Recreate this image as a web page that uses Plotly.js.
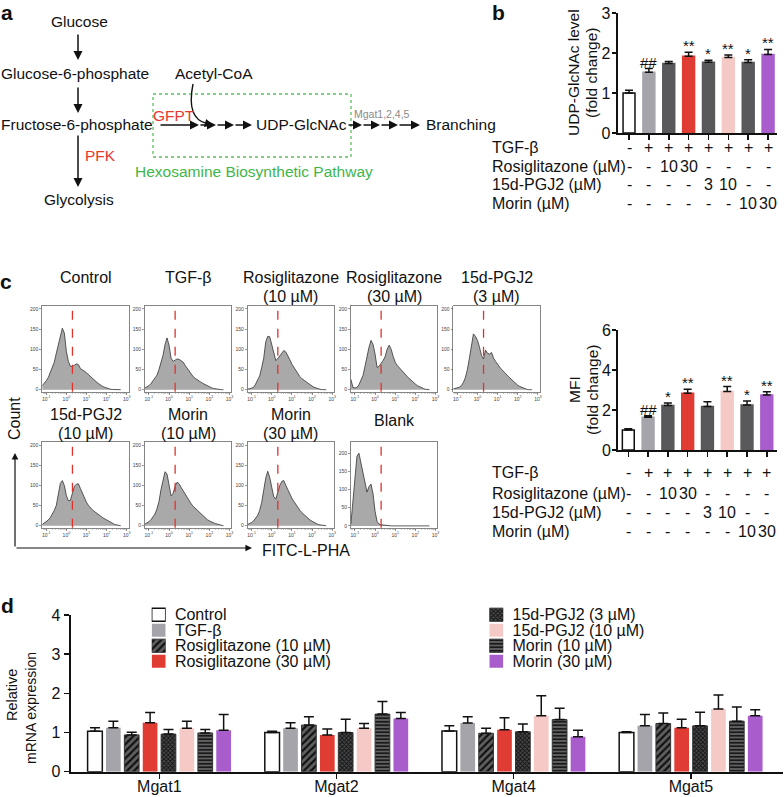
<!DOCTYPE html>
<html><head><meta charset="utf-8">
<script src="https://cdn.plot.ly/plotly-3.0.1.min.js"></script>
<style>body{margin:0;background:#fff}#chart{width:784px;height:797px}</style>
</head><body><div id="chart"></div>
<script>
// ---------------- data ----------------
const groups = ['Control','TGF-β','Rosiglitazone (10 µM)','Rosiglitazone (30 µM)','15d-PGJ2 (3 µM)','15d-PGJ2 (10 µM)','Morin (10 µM)','Morin (30 µM)'];

// panel b : UDP-GlcNAc level (fold change)
const udpMean = [1.00,1.52,1.74,1.92,1.77,1.89,1.76,1.96];
const udpErr  = [0.07,0.09,0.05,0.10,0.05,0.06,0.07,0.13];
const udpSig  = ['','##','','**','*','**','*','**'];

// panel c : MFI (fold change)
const mfiMean = [1.00,1.64,2.22,2.84,2.18,2.93,2.25,2.75];
const mfiErr  = [0.06,0.07,0.13,0.20,0.23,0.24,0.20,0.16];
const mfiSig  = ['','##','*','**','','**','*','**'];

// treatment table
const tableRows = ['TGF-β','Rosiglitazone (µM)','15d-PGJ2 (µM)','Morin (µM)'];
const tgfRow   = ['-','+','+','+','+','+','+','+'];
const rosiRow  = ['-','-','10','30','-','-','-','-'];
const pgjRow   = ['-','-','-','-','3','10','-','-'];
const morinRow = ['-','-','-','-','-','-','10','30'];

// panel c : flow cytometry histograms (FITC-L-PHA, log bins)
const fitcBins = [0.063,0.079,0.1,0.126,0.158,0.2,0.251,0.316,0.398,0.501,0.631,0.794,1,1.26,1.58,2,2.51,3.16,3.98,5.01,6.31,7.94,10,12.6,15.8,20,25.1,31.6,39.8,50.1,63.1,79.4,100,126,158,200,251,316,398,501];
const ctrlCounts    = [10,15,22,30,42,57,68,90,112,135,152,140,95,70,58,57,60,64,62,52,49,46,42,37,32,28,24,19,15,11,8,6,4,2,1,0.5,0,0,0,0];
const tgfCounts     = [4,6,10,15,22,30,36,50,68,85,112,128,110,78,70,74,76,75,72,68,60,53,45,38,32,28,24,21,18,15,12,10,7,5,3,2,1,0,0,0];
const rosi10Counts  = [2,2,4,6,14,24,34,55,78,118,132,131,110,88,72,77,84,90,97,93,85,74,63,55,45,38,32,27,23,19,16,12,9,6,4,2,1,0,0,0];
const rosi30Counts  = [26,6,4,6,12,22,35,58,85,105,122,112,88,55,58,64,72,82,100,110,100,82,68,60,55,50,45,38,32,27,22,18,14,10,7,5,3,1,0,0];
const pgj3Counts    = [2,3,4,6,10,18,30,50,78,108,138,132,122,105,85,76,98,90,88,92,78,70,62,56,50,46,40,34,29,24,20,15,11,8,6,3,1,0,0,0];
const pgj10Counts   = [3,6,10,14,20,28,38,50,80,105,112,100,75,62,63,82,98,103,104,92,80,70,58,50,44,39,35,32,28,24,20,17,14,10,7,5,3,2,1,0];
const morin10Counts = [4,6,10,15,21,29,42,60,90,115,134,128,100,74,80,98,108,104,95,87,78,69,60,54,48,43,38,33,28,23,19,15,12,9,7,5,4,2,1,0];
const morin30Counts = [3,5,8,12,18,26,38,58,88,118,135,120,95,72,66,85,100,110,112,100,88,77,68,60,52,45,38,32,27,22,18,14,11,8,5,3,2,1,0,0];
const blankCounts   = [5,70,145,192,200,172,140,112,93,108,115,88,40,12,5,3,2,1,1,0.5,0,0,0,0,0,0,0,0,0,0,0,0,0,0,0,0,0,0,0,0];
const gateValue = 2;
const fitcTicks = [0.1,1,10,100,1000];
const fitcTickText = ['10<sup>-1</sup>','10<sup>0</sup>','10<sup>1</sup>','10<sup>2</sup>','10<sup>3</sup>'];
const countTicks = [0,50,100,150,200];
const histTitle1 = ['Control','TGF-β','Rosiglitazone','Rosiglitazone','15d-PGJ2','15d-PGJ2','Morin','Morin','Blank'];
const histTitle2 = ['','','(10 µM)','(30 µM)','(3 µM)','(10 µM)','(10 µM)','(30 µM)',''];

// panel d : relative mRNA expression
const genes = ['Mgat1','Mgat2','Mgat4','Mgat5'];
const dControl = [1.03,1.00,1.04,1.00];  const eControl = [0.09,0.03,0.13,0.02];
const dTGF     = [1.12,1.11,1.24,1.17];  const eTGF     = [0.17,0.14,0.16,0.29];
const dRosi10  = [0.94,1.19,0.98,1.23];  const eRosi10  = [0.07,0.21,0.13,0.27];
const dRosi30  = [1.25,0.94,1.07,1.12];  const eRosi30  = [0.26,0.15,0.31,0.22];
const dPgj3    = [0.96,1.00,1.02,1.17];  const ePgj3    = [0.12,0.34,0.20,0.35];
const dPgj10   = [1.11,1.11,1.43,1.60];  const ePgj10   = [0.18,0.12,0.51,0.36];
const dMorin10 = [0.99,1.47,1.33,1.29];  const eMorin10 = [0.09,0.32,0.29,0.36];
const dMorin30 = [1.06,1.36,0.89,1.43];  const eMorin30 = [0.40,0.15,0.17,0.15];
const swatch = [1];

// ---------------- styling ----------------
const W = 784, H = 797;
const FONT = 'Liberation Sans, Arial, sans-serif';
const px = x => x / W, py = y => 1 - y / H;
const dom = (a, b) => [a / W, b / W];
const domY = (top, bottom) => [1 - bottom / H, 1 - top / H];

const barColors = ['#ffffff','#a4a4aa','#59585b','#e03c33','#59585b','#f5cac6','#59585b','#a95ccb'];
const barLines  = ['#111111','#a4a4aa','#59585b','#e03c33','#59585b','#f5cac6','#59585b','#a95ccb'];
const dShapes   = ['','','/','','x','','-',''];
const dBg       = ['#ffffff','#a4a4aa','#606062','#e03c33','#4a4a4c','#f5cac6','#616163','#a95ccb'];
const dLineW    = [1.5,0,1,0,1,0,1,0];
const dLineC    = ['#111','#a4a4aa','#333','#e03c33','#333','#f5cac6','#333','#a95ccb'];
const dSize     = [8,8,5,8,3,8,3.5,8];
const dSolid    = [0.3,0.3,0.45,0.3,0.5,0.3,0.45,0.3];
function dMarker(i) {
  const m = {color:dBg[i], line:{color:dLineC[i], width:dLineW[i]}};
  if (dShapes[i]) m.pattern = {shape:dShapes[i], bgcolor:dBg[i], fgcolor:'#111', size:dSize[i], solidity:dSolid[i]};
  return m;
}

const data = [];
const ann = [];
const shapes = [];

function T(x, y, text, o = {}) {
  const f = Object.assign({family: FONT, size: 15.5, color: '#111'}, o.font || {});
  const a = Object.assign({xref:'paper', yref:'paper', x:px(x), y:py(y), text, showarrow:false,
    xanchor:'center', yanchor:'middle'}, o);
  a.font = f;
  ann.push(a);
}
function A(x0, y0, x1, y1, o = {}) {
  ann.push(Object.assign({xref:'paper', yref:'paper', x:px(x1), y:py(y1), ax:x0 - x1, ay:y0 - y1,
    axref:'pixel', ayref:'pixel', text:'', showarrow:true, arrowhead:2, arrowsize:1.2,
    arrowwidth:1.5, arrowcolor:'#111', standoff:0, startstandoff:0}, o));
}

// ---------------- panel a ----------------
T(7, 13, '<b>a</b>', {font:{size:21}});
T(79, 21, 'Glucose');
T(75, 73, 'Glucose-6-phosphate');
T(77, 125, 'Fructose-6-phosphate');
T(79, 199, 'Glycolysis');
T(83, 155, 'PFK', {xanchor:'left', font:{color:'#e8392f'}});
T(214, 74, 'Acetyl-CoA');
T(174, 115, 'GFPT', {font:{color:'#e8392f'}});
T(301, 125, 'UDP-GlcNAc');
T(382, 114, 'Mgat1,2,4,5', {font:{size:10.5, color:'#8a8a8a'}});
T(424, 125, 'Branching', {xanchor:'left'});
T(254, 172, 'Hexosamine Biosynthetic Pathway', {font:{color:'#3fb64a'}});
A(78, 33, 78, 60);
A(78, 86, 78, 113);
A(78, 134, 78, 187);
[[159,199],[199,216],[216,234],[234,252],[347,362],[362,380],[380,398],[398,420]].forEach(s => A(s[0],125,s[1],125));
shapes.push({type:'rect', xref:'paper', yref:'paper', x0:px(153), x1:px(351), y0:py(157), y1:py(94),
  line:{color:'#5cc05c', width:1.3, dash:'dot'}});
shapes.push({type:'path', xref:'paper', yref:'paper',
  path:`M ${px(193)},${py(84)} Q ${px(186)},${py(119)} ${px(207)},${py(123.5)}`,
  line:{color:'#111', width:1.4}});
A(206, 123.2, 213, 125.2, {arrowsize:1.1});

// ---------------- panel b & c bar charts ----------------
const layout = {
  width: W, height: H, margin:{l:0,r:0,t:0,b:0}, paper_bgcolor:'#ffffff', plot_bgcolor:'rgba(0,0,0,0)',
  showlegend:false, font:{family:FONT, color:'#111', size:16},
  barmode:'group', bargap:0.17, bargroupgap:0.2
};
function barAxes(xid, yid, xdom, ydom, xr, yr, dt) {
  layout['xaxis' + xid] = {domain:xdom, anchor:'y' + yid, type:'category', range:xr, showline:true,
    linewidth:2, linecolor:'#111', ticks:'outside', ticklen:5, tickwidth:1.5, tickcolor:'#111',
    showticklabels:false, showgrid:false, zeroline:false, fixedrange:true};
  layout['yaxis' + yid] = {domain:ydom, anchor:'x' + xid, range:yr, dtick:dt, showline:true,
    linewidth:2, linecolor:'#111', ticks:'outside', ticklen:4, tickwidth:1.5, tickcolor:'#111',
    ticklabelstandoff:-2, tickfont:{size:16}, showgrid:false, zeroline:false, fixedrange:true};
}
barAxes('', '', dom(617.7,777), domY(13,133), [-0.57,7.45], [0,3], 1);
barAxes('2', '2', dom(618,776.7), domY(330,450), [-0.52,7.5], [0,6], 2);

function fcBars(xa, ya, mean, err, sig, rowY) {
  data.push({type:'bar', x:groups, y:mean, xaxis:xa, yaxis:ya, width:0.6, hoverinfo:'skip',
    marker:{color:barColors, line:{color:barLines, width:1.5}},
    error_y:{type:'data', array:err, arrayminus:err.map(() => 0), symmetric:false,
      color:'#111', thickness:1.5, width:4}});
  sig.forEach((s, i) => {
    if (!s) return;
    ann.push({xref:xa, yref:ya, x:groups[i], y:mean[i] + err[i], text:s, showarrow:false,
      xanchor:'center', yanchor:'bottom', yshift:-4, font:{family:FONT, size:15, color:'#111'}});
  });
  const rows = [tgfRow, rosiRow, pgjRow, morinRow];
  rows.forEach((r, k) => {
    T(490, rowY[k], tableRows[k], {xanchor:'left', font:{size:16}});
    r.forEach((v, i) => ann.push({xref:xa, yref:'paper', x:groups[i], y:py(rowY[k]), text:v,
      showarrow:false, xanchor:'center', yanchor:'middle', font:{family:FONT, size:16, color:'#111'}}));
  });
}
fcBars('x', 'y', udpMean, udpErr, udpSig, [147,166,184.5,203]);
fcBars('x2', 'y2', mfiMean, mfiErr, mfiSig, [472,493,512.5,531.5]);

T(498, 13, '<b>b</b>', {font:{size:21}});
T(573, 73, 'UDP-GlcNAc level', {textangle:-90});
T(591, 73, '(fold change)', {textangle:-90});
T(574, 390, 'MFI', {textangle:-90});
T(592, 390, '(fold change)', {textangle:-90});

// ---------------- panel c histograms ----------------
T(6, 281, '<b>c</b>', {font:{size:21}});
const histCounts = [ctrlCounts, tgfCounts, rosi10Counts, rosi30Counts, pgj3Counts, pgj10Counts, morin10Counts, morin30Counts, blankCounts];
const colLeft = [42.2,144.9,247.6,350.9,453.3];
const panelW = 86.6;
histCounts.forEach((counts, k) => {
  const n = 4 + k;
  const row = k < 5 ? 0 : 1;
  const col = k < 5 ? k : k - 5;
  const L = colLeft[col];
  const box = row === 0 ? [306,391.7] : [442.3,527.7];
  const yMax = k === 8 ? 230 : 207;
  layout['xaxis' + n] = {domain:dom(L, L + panelW), anchor:'y' + n, type:'log', range:[-1.2,3.1],
    tickvals:fitcTicks, ticktext:fitcTickText, tickfont:{size:5, color:'#444'}, ticks:'outside',
    ticklen:2, tickwidth:0.6, tickcolor:'#555', showline:true, mirror:true, linecolor:'#666',
    linewidth:0.8, showgrid:false, zeroline:false,
    minor:{ticks:'outside', ticklen:1.2, tickwidth:0.4, tickcolor:'#777', dtick:'D1'}};
  layout['yaxis' + n] = {domain:domY(box[0], box[1]), anchor:'x' + n, range:[-5, yMax],
    tickvals:countTicks, tickfont:{size:5, color:'#444'}, ticks:'outside', ticklen:2, tickwidth:0.6,
    tickcolor:'#555', showline:true, mirror:true, linecolor:'#666', linewidth:0.8,
    showgrid:false, zeroline:false};
  data.push({type:'scatter', mode:'lines', x:fitcBins, y:counts, xaxis:'x' + n, yaxis:'y' + n,
    fill:'tozeroy', fillcolor:'#a9a9a9', line:{color:'#333', width:0.8}, hoverinfo:'skip'});
  shapes.push({type:'line', xref:'x' + n, yref:'y' + n + ' domain', x0:gateValue, x1:gateValue, y0:0, y1:1,
    line:{color:'#e0322b', width:1.3, dash:'dash'}});
  const cx = L + panelW / 2;
  const split = row === 0 ? 287.5 : 424;
  if (histTitle2[k]) {
    T(cx, split, histTitle1[k], {yanchor:'bottom', borderpad:0, font:{size:16}});
    T(cx, split, histTitle2[k], {yanchor:'top', borderpad:0, font:{size:16}});
  } else {
    T(cx, row === 0 ? split : 420, histTitle1[k], row === 0 ? {yanchor:'bottom', borderpad:0, font:{size:16}} : {font:{size:16}});
  }
});
A(15, 548, 15, 453, {arrowwidth:1.2, arrowsize:1.1});
A(15, 548, 252, 548, {arrowwidth:1.2, arrowsize:1.1});
T(15, 419, 'Count', {textangle:-90, font:{size:16}});
T(306, 550, 'FITC-L-PHA', {font:{size:16}});

// ---------------- panel d ----------------
T(8, 605, '<b>d</b>', {font:{size:21}});
layout.xaxis3 = {domain:dom(70.7,783), anchor:'y3', type:'category', range:[-0.5,3.52], showline:true,
  linewidth:2, linecolor:'#111', ticks:'outside', ticklen:5, tickwidth:1.5, tickcolor:'#111',
  ticklabelstandoff:-6, tickfont:{size:16}, showgrid:false, zeroline:false};
layout.yaxis3 = {domain:domY(615,771.7), anchor:'x3', range:[0,4], dtick:1, showline:true,
  linewidth:2, linecolor:'#111', ticks:'outside', ticklen:5, tickwidth:1.5, tickcolor:'#111',
  tickfont:{size:16}, showgrid:false, zeroline:false};
const dMeans = [dControl,dTGF,dRosi10,dRosi30,dPgj3,dPgj10,dMorin10,dMorin30];
const dErrs  = [eControl,eTGF,eRosi10,eRosi30,ePgj3,ePgj10,eMorin10,eMorin30];
dMeans.forEach((m, i) => {
  data.push({type:'bar', name:groups[i], x:genes, y:m, xaxis:'x3', yaxis:'y3', hoverinfo:'skip',
    marker:dMarker(i),
    error_y:{type:'data', array:dErrs[i], arrayminus:dErrs[i].map(() => 0), symmetric:false,
      color:'#111', thickness:1.5, width:5}});
});
T(12, 695, 'Relative', {textangle:-90, font:{size:14.5}});
T(31, 708, 'mRNA expression', {textangle:-90, font:{size:14}});

// legend keys (two columns)
function legendAxes(id, x0, x1, names, idx) {
  layout['xaxis' + id] = {domain:dom(x0, x1), anchor:'y' + id, range:[0,1], visible:false, fixedrange:true};
  layout['yaxis' + id] = {domain:domY(607,669), anchor:'x' + id, type:'category', range:[3.5,-0.5],
    categoryorder:'array', categoryarray:names, tickmode:'array', tickvals:names, ticktext:names,
    side:'right', showline:false, ticks:'outside', ticklen:5, tickcolor:'rgba(0,0,0,0)',
    tickfont:{size:16}, showgrid:false, zeroline:false, fixedrange:true};
  idx.forEach((gi, j) => {
    data.push({type:'bar', orientation:'h', y:[names[j]], x:swatch, xaxis:'x' + id, yaxis:'y' + id,
      width:0.85, offsetgroup:'key' + id, hoverinfo:'skip', marker:dMarker(gi)});
  });
}
legendAxes(13, 151.7, 165.7, groups.slice(0,4), [0,1,2,3]);
legendAxes(14, 489.3, 503.3, groups.slice(4), [4,5,6,7]);

layout.annotations = ann;
layout.shapes = shapes;
Plotly.newPlot('chart', data, layout, {displayModeBar:false, staticPlot:true});
</script>
</body></html>
